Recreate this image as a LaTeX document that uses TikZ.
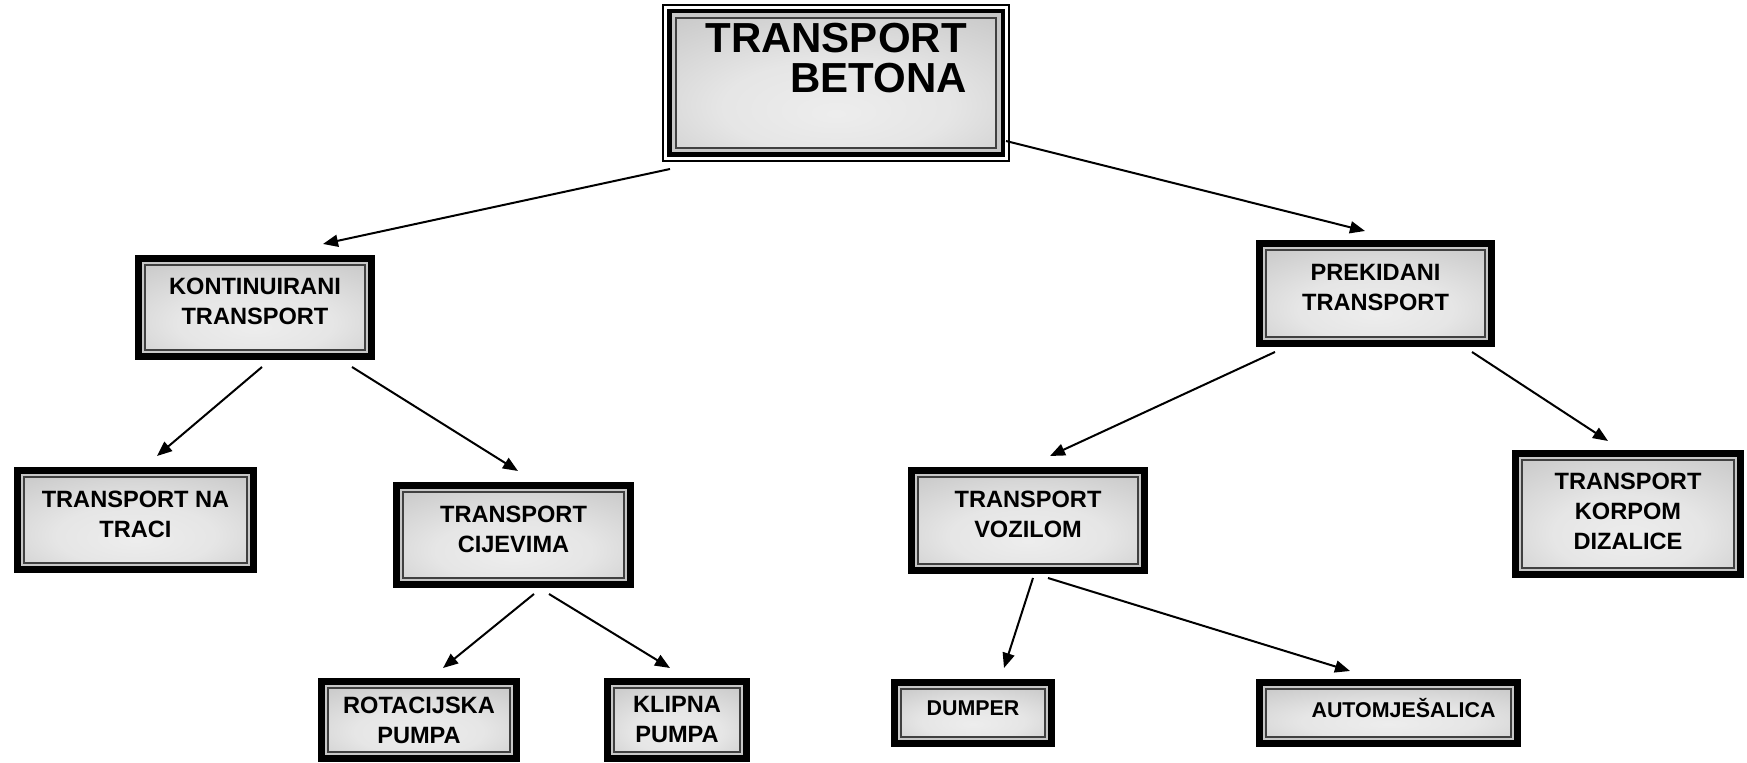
\documentclass[tikz,border=0pt]{standalone}
\usepackage{fontspec}
\setmainfont{Liberation Sans}
\usetikzlibrary{arrows.meta}

\pgfdeclareradialshading{boxfill}{\pgfpoint{0bp}{-12bp}}{%
  color(0bp)=(black!7); color(18bp)=(black!10); color(50bp)=(black!26); color(75bp)=(black!30)}

\begin{document}
\begin{tikzpicture}[x=0.5pt,y=-0.5pt]
  % some colors
  \colorlet{frame}{black}
  \colorlet{gap}{black!22}
  \colorlet{rim}{black!75}
  % some styles
  \tikzset{
    box/.style={
      rectangle,
      inner sep=0mm,
      outer sep=0mm,
      align=center,
      font=\fontsize{11.8}{15}\selectfont\bfseries,
      shading=boxfill,
      draw=rim,
      line width=1pt,
      preaction={draw=frame,line width=10pt},
      preaction={draw=gap,line width=3pt},
      execute at end node={\rule[-#1]{0pt}{#1}},
    },
    box/.default=6pt,
    small/.style={font=\fontsize{10.7}{14}\selectfont\bfseries},
    topbox/.style={
      rectangle,
      inner sep=0mm,
      outer sep=0mm,
      align=right,
      font=\fontsize{21}{20}\selectfont\bfseries,
      shading=boxfill,
      draw=rim,
      line width=1pt,
      preaction={draw=frame,line width=14pt},
      preaction={draw=white,line width=12pt},
      preaction={draw=frame,line width=9pt},
      preaction={draw=gap,line width=4.5pt},
      execute at end node={\rule[-25pt]{0pt}{25pt}},
    },
    link/.style={-{Triangle[length=7.5pt,width=6pt]}, line width=1pt},
  }
  \useasboundingbox (0,0) rectangle (1747,763);
  % root
  \node[topbox,minimum width=160pt,minimum height=65pt] (transport) at (836,83) {TRANSPORT\\BETONA\hspace{3pt}};
  % first level
  \node[box,minimum width=110pt,minimum height=42.5pt] (kont) at (255,307.5) {KONTINUIRANI\\TRANSPORT};
  \node[box,minimum width=109.5pt,minimum height=43.5pt] (prek) at (1375.5,293.5) {PREKIDANI\\TRANSPORT};
  % second level
  \node[box,minimum width=111.5pt,minimum height=43pt] (traci) at (135.5,520) {TRANSPORT NA\\TRACI};
  \node[box,minimum width=110.5pt,minimum height=43pt] (cijevi) at (513.5,535) {TRANSPORT\\CIJEVIMA};
  \node[box,minimum width=110pt,minimum height=43.5pt] (vozilo) at (1028,520.5) {TRANSPORT\\VOZILOM};
  \node[box=3pt,minimum width=106pt,minimum height=54pt] (korpa) at (1628,514) {TRANSPORT\\KORPOM\\DIZALICE};
  % third level
  \node[box=0pt,minimum width=91pt,minimum height=32pt] (rotpumpa) at (419,720) {ROTACIJSKA\\PUMPA};
  \node[box=0pt,minimum width=63pt,minimum height=32pt] (klippumpa) at (677,720) {KLIPNA\\PUMPA};
  \node[box=5pt,small,minimum width=72pt,minimum height=24pt] (dumper) at (973,713) {DUMPER};
  \node[box=5pt,small,minimum width=122.5pt,minimum height=24pt] (mjesalica) at (1388.5,713) {\hspace*{15pt}AUTOMJEŠALICA};
  % links
  \draw[link] ([shift={(-6,21)}]transport.south west) -- ([shift={(68,-21)}]kont.north);
  \draw[link] ([shift={(10,-7)}]transport.south east) -- ([shift={(-10.5,-19)}]prek.north);
  \draw[link] ([shift={(7,17)}]kont.south) -- ([shift={(21.5,-21)}]traci.north);
  \draw[link] ([shift={(97,17)}]kont.south) -- ([shift={(4.5,-21)}]cijevi.north);
  \draw[link] ([shift={(20.5,16)}]cijevi.south) -- ([shift={(24,-20)}]rotpumpa.north);
  \draw[link] ([shift={(35.5,16)}]cijevi.south) -- ([shift={(-7,-20)}]klippumpa.north);
  \draw[link] ([shift={(-100.5,15)}]prek.south) -- ([shift={(22,-21)}]vozilo.north);
  \draw[link] ([shift={(96.5,15)}]prek.south) -- ([shift={(-20,-19)}]korpa.north);
  \draw[link] ([shift={(5,14)}]vozilo.south) -- ([shift={(31,-21)}]dumper.north);
  \draw[link] ([shift={(20,14)}]vozilo.south) -- ([shift={(-38.5,-18)}]mjesalica.north);
\end{tikzpicture}
\end{document}
